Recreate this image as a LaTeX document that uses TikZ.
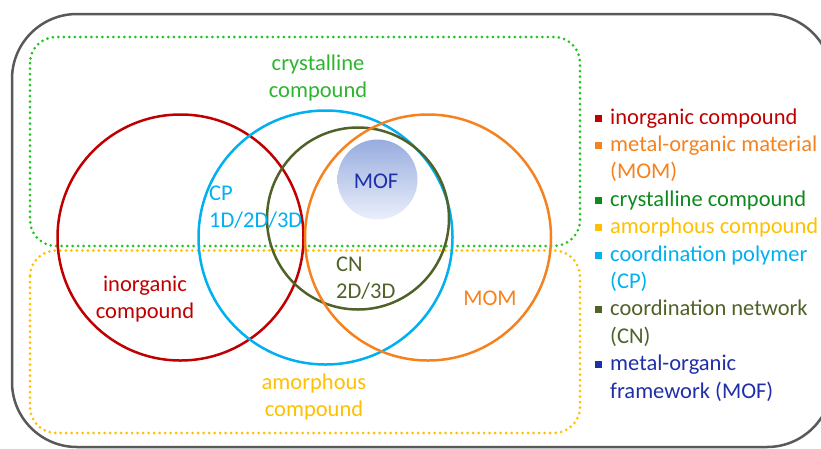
\documentclass[tikz,border=0pt]{standalone}
\usepackage{fontspec}
\setmainfont{Carlito}
\definecolor{cred}{HTML}{C00000}
\definecolor{corange}{HTML}{F5821F}
\definecolor{cgreenline}{HTML}{22C422}
\definecolor{cgreentxt}{HTML}{2DB52D}
\definecolor{cgreenleg}{HTML}{0E8A1E}
\definecolor{cyellow}{HTML}{FFC000}
\definecolor{ccyan}{HTML}{00B0F0}
\definecolor{colive}{HTML}{4F6228}
\definecolor{cblue}{HTML}{1F2FA8}
\definecolor{cgrey}{HTML}{595959}
\definecolor{moftop}{HTML}{97ACDE}
\definecolor{mofbot}{HTML}{EAEFFB}
\tikzset{
  dotbox/.style={line width=3pt, dash pattern=on 0pt off 5.5pt, line cap=round, rounded corners=26pt},
  setcirc/.style={circle, draw=#1, line width=2.5pt, inner sep=0pt},
  lab/.style={font=\fontsize{22.5}{27}\selectfont, align=center, inner sep=0pt},
  legtxt/.style={font=\fontsize{22.5}{27.4}\selectfont, align=left, anchor=base west, inner sep=0pt},
  legsq/.style={fill=#1, minimum size=7pt, inner sep=0pt}
}
\begin{document}
\begin{tikzpicture}[x=1pt,y=-1pt]
\useasboundingbox (0,0) rectangle (821,448);
\clip (0,0) rectangle (821,448);
% outer frame
\draw[cgrey, line width=2.5pt, rounded corners=65pt] (12,14) rectangle (832,447);
% crystalline / amorphous regions
\draw[dotbox, cgreenline] (30,37) rectangle (580,246);
\draw[dotbox, cyellow] (30,250.5) rectangle (580,433);
% MOF disc
\shade[top color=moftop, bottom color=mofbot] (377.5,179.5) circle (40);
\node[circle, minimum size=80pt, inner sep=0pt] (mof) at (377.5,179.5) {};
% circles
\node[setcirc=cred, minimum size=246pt] (inorg) at (180.5,237.5) {};
\node[setcirc=ccyan, minimum size=254pt] (cp) at (325.5,237.5) {};
\node[setcirc=colive, minimum size=182pt] (cn) at (358,218.5) {};
\node[setcirc=corange, minimum size=246pt] (mom) at (428,237.5) {};
% labels (base anchor = baseline of last line)
\node[lab, text=cgreentxt, anchor=base] (lcryst) at (318,97) {crystalline\\compound};
\node[lab, text=cyellow, anchor=base] (lamor) at (314,416) {amorphous\\compound};
\node[lab, text=cred, anchor=base] (linorg) at (145,318) {inorganic\\compound};
\node[lab, text=ccyan, align=left, anchor=base west] (lcp) at (209,227.5) {CP\\1D/2D/3D};
\node[lab, text=colive, align=left, anchor=base west] (lcn) at (336,298.5) {CN\\2D/3D};
\node[lab, text=corange, anchor=base] (lmom) at (490,305) {MOM};
\node[lab, text=cblue, anchor=base] (lmof) at (376,188) {MOF};
% legend
\node[legsq=cred] (s1) at (598,118) {};
\node[legtxt, text=cred] (t1) at (610,124) {inorganic compound};
\node[legsq=corange] (s2) at (598,145.4) {};
\node[legtxt, text=corange] (t2) at (610,178.8) {metal-organic material\\(MOM)};
\node[legsq=cgreenleg] (s3) at (598,200.2) {};
\node[legtxt, text=cgreenleg] (t3) at (610,206.2) {crystalline compound};
\node[legsq=cyellow] (s4) at (598,227.6) {};
\node[legtxt, text=cyellow] (t4) at (610,233.6) {amorphous compound};
\node[legsq=ccyan] (s5) at (598,255) {};
\node[legtxt, text=ccyan] (t5) at (610,288.4) {coordination polymer\\(CP)};
\node[legsq=colive] (s6) at (598,309.8) {};
\node[legtxt, text=colive] (t6) at (610,343.2) {coordination network\\(CN)};
\node[legsq=cblue] (s7) at (598,364.6) {};
\node[legtxt, text=cblue] (t7) at (610,398) {metal-organic\\framework (MOF)};
\end{tikzpicture}
\end{document}
